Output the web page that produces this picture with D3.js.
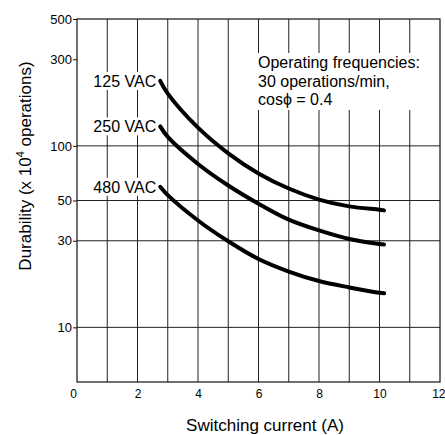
<!DOCTYPE html>
<html>
<head>
<meta charset="utf-8">
<script src="https://cdn.jsdelivr.net/npm/d3@7"></script>
<style>
  body { margin: 0; background: #fff; }
  text { font-family: "Liberation Sans", Arial, sans-serif; fill: #000; }
</style>
</head>
<body>
<div id="chart"></div>
<script>
// data
const currents = [2.75, 3, 4, 5, 6, 7, 8, 9, 10, 10.15];
const series_names = ["125 VAC", "250 VAC", "480 VAC"];
const vac125 = [228, 194, 126, 91, 70.5, 58.2, 50.6, 46.4, 44.5, 44.1];
const vac250 = [128, 112, 79.5, 60.5, 48, 39.2, 34.2, 30.7, 28.8, 28.6];
const vac480 = [59.5, 53.5, 38.8, 29.8, 23.8, 20.3, 18.0, 16.6, 15.5, 15.4];
const x_ticks = [0, 2, 4, 6, 8, 10, 12];
const y_ticks = [10, 30, 50, 100, 300, 500];
const y_grid = [10, 30, 50, 100];
const note_lines = ["Operating frequencies:", "30 operations/min,", "cos\u03D5 = 0.4"];

const all_series = [vac125, vac250, vac480];

const width = 445, height = 435;
const svg = d3.select("#chart").append("svg")
    .attr("width", width)
    .attr("height", height);

// scales
const x = d3.scaleLinear().domain([0, 12]).range([77, 440]);
const y = d3.scaleLog().domain([5, 500]).range([382, 19]);

// vertical grid at every ampere
svg.append("g")
    .selectAll("line")
    .data(d3.range(1, 12))
    .join("line")
    .attr("x1", d => x(d)).attr("x2", d => x(d))
    .attr("y1", y(500)).attr("y2", y(5))
    .attr("stroke", "#222")
    .attr("stroke-width", 1);

// horizontal grid
svg.append("g")
    .selectAll("line")
    .data(y_grid)
    .join("line")
    .attr("x1", x(0)).attr("x2", x(12))
    .attr("y1", d => y(d)).attr("y2", d => y(d))
    .attr("stroke", "#222")
    .attr("stroke-width", 1);

// frame
svg.append("rect")
    .attr("x", x(0)).attr("y", y(500))
    .attr("width", x(12) - x(0)).attr("height", y(5) - y(500))
    .attr("fill", "none")
    .attr("stroke", "#111")
    .attr("stroke-width", 1.2);

// y axis
const y_axis = svg.append("g")
    .attr("transform", "translate(" + x(0) + ",0)")
    .call(d3.axisLeft(y).tickValues(y_ticks).tickFormat(d3.format("d")).tickSize(4).tickPadding(1));
y_axis.select(".domain").remove();
y_axis.selectAll("line").attr("stroke", "#111");
y_axis.selectAll("text")
    .attr("font-size", "13px")
    .attr("font-family", "Liberation Sans, Arial, sans-serif")
    .attr("fill", "#000");

// x axis
const x_axis = svg.append("g")
    .attr("transform", "translate(0," + y(5) + ")")
    .call(d3.axisBottom(x).tickValues(x_ticks).tickSize(0).tickPadding(7));
x_axis.select(".domain").remove();
x_axis.selectAll("text")
    .attr("font-size", "12px")
    .attr("font-family", "Liberation Sans, Arial, sans-serif")
    .attr("fill", "#000")
    .attr("text-anchor", d => d === 12 ? "end" : "middle")
    .attr("dx", d => d === 12 ? "5" : d === 0 ? "-4" : "0");

// annotation box
const note = svg.append("g");
note.append("rect")
    .attr("x", 254).attr("y", 53)
    .attr("width", 182).attr("height", 57)
    .attr("fill", "#fff");
note.selectAll("text")
    .data(note_lines)
    .join("text")
    .attr("x", 258)
    .attr("y", (d, i) => 68 + i * 18.5)
    .attr("font-size", "16px")
    .text(d => d);

// curves
const line = d3.line()
    .x(d => x(d[0]))
    .y(d => y(d[1]))
    .curve(d3.curveCatmullRom.alpha(0.5));

all_series.forEach((vals, i) => {
    const pts = currents.map((c, j) => [c, vals[j]]);
    svg.append("path")
        .datum(pts)
        .attr("d", line)
        .attr("fill", "none")
        .attr("stroke", "#000")
        .attr("stroke-width", 4)
        .attr("stroke-linecap", "round");

    // series label with white backing
    const lx = x(currents[0]) - 4, ly = y(vals[0]);
    svg.append("rect")
        .attr("x", lx - 66).attr("y", ly - 9)
        .attr("width", 66).attr("height", 18)
        .attr("fill", "#fff");
    svg.append("text")
        .attr("x", lx)
        .attr("y", ly)
        .attr("dy", "0.36em")
        .attr("text-anchor", "end")
        .attr("font-size", "16px")
        .text(series_names[i]);
});

// axis titles
svg.append("text")
    .attr("x", 265)
    .attr("y", 431)
    .attr("text-anchor", "middle")
    .attr("font-size", "17px")
    .text("Switching current (A)");

const y_title = svg.append("text")
    .attr("transform", "translate(31,166) rotate(-90)")
    .attr("text-anchor", "middle")
    .attr("font-size", "17px");
y_title.append("tspan").text("Durability (x 10");
y_title.append("tspan").attr("font-size", "11px").attr("dy", "-7").text("4");
y_title.append("tspan").attr("dy", "7").text(" operations)");
</script>
</body>
</html>
